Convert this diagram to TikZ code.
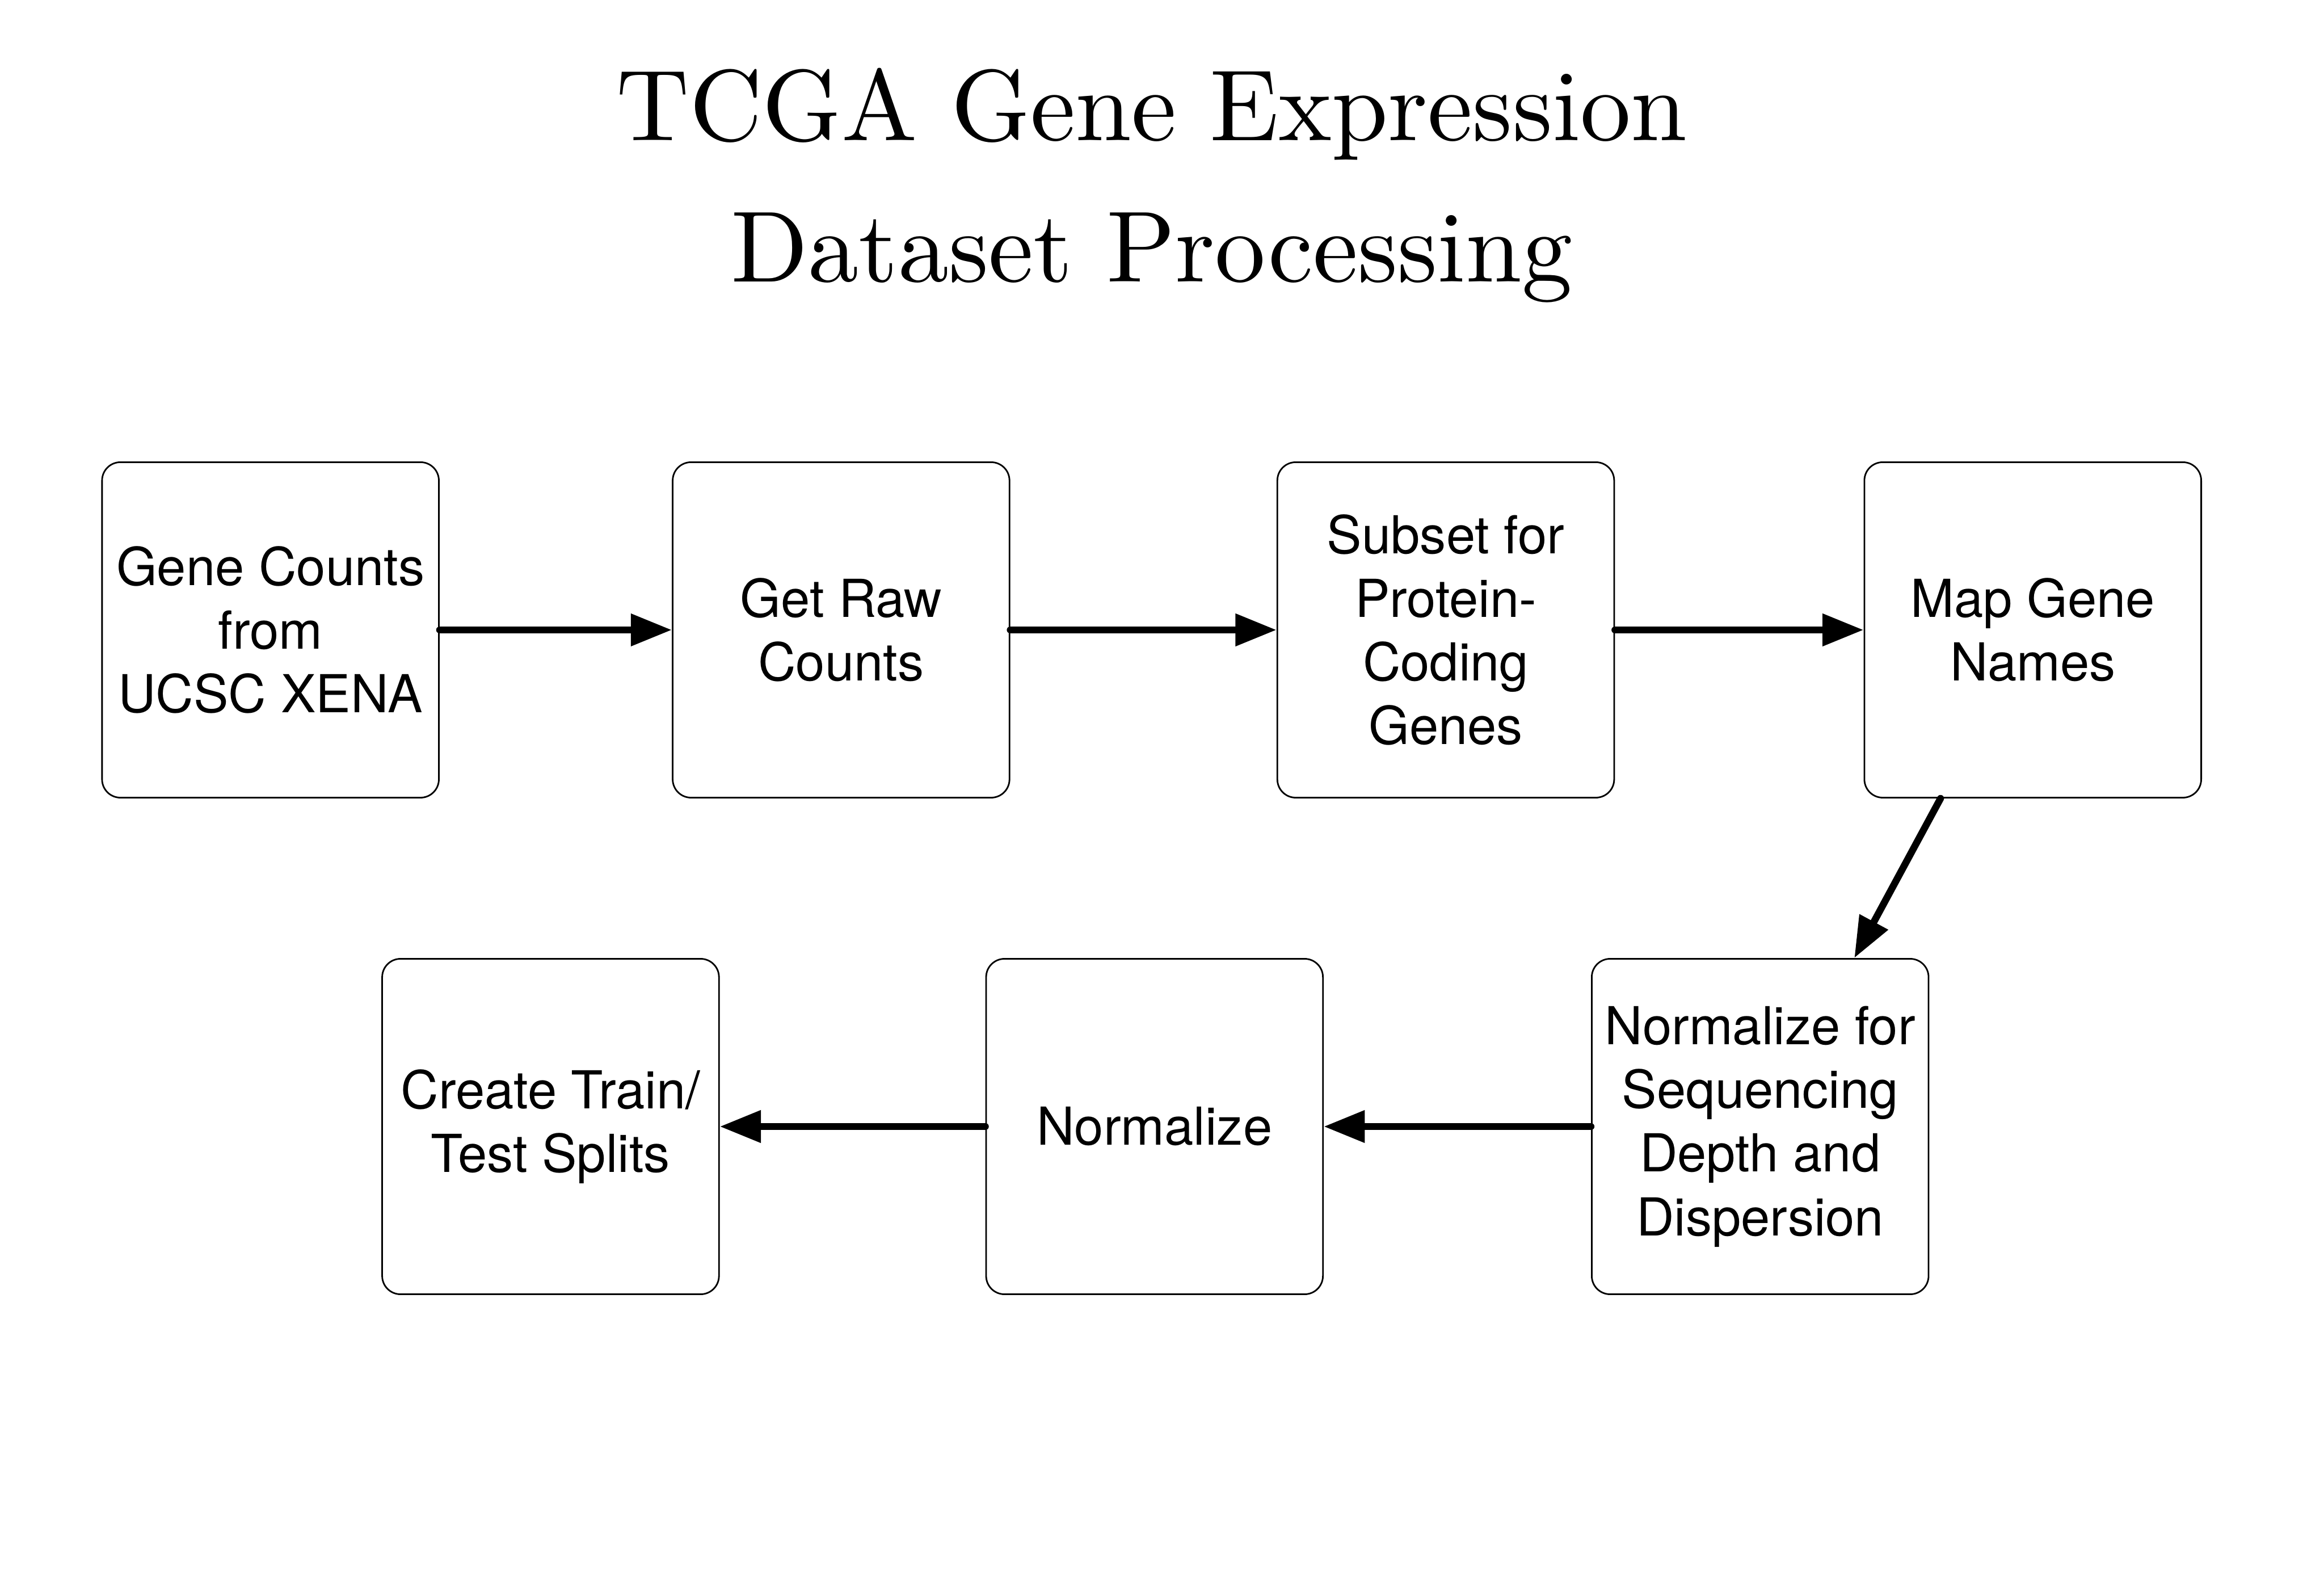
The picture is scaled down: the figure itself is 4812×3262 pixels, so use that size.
\documentclass[tikz,border=0pt]{standalone}
\usepackage{fontspec}
\newfontfamily\boxfont{TeX Gyre Heros}
\newfontfamily\titlefont{lmroman10-regular.otf}
\usetikzlibrary{arrows.meta,calc}
\begin{document}
\begin{tikzpicture}[x=0.01cm,y=0.01cm,
  stepbox/.style={draw, line width=0.033cm, rounded corners=0.38cm,
    minimum width=6.97cm, minimum height=6.94cm, inner sep=0pt,
    align=center, font=\boxfont\fontsize{30.8}{37.5}\selectfont},
  flow/.style={line width=0.145cm, line cap=round,
    -{Triangle[length=0.85cm,width=0.64cm]}},
  titletext/.style={font=\titlefont\fontsize{59.5}{83}\selectfont, anchor=base, inner sep=0pt}]
\useasboundingbox (0,0) rectangle (4812,3262);
\node[titletext] (t1) at (2385,2971) {TCGA Gene Expression};
\node[titletext] (t2) at (2385,2679) {Dataset Processing};
\node[stepbox] (b1) at (560,1958) {Gene Counts\\from\\UCSC XENA};
\node[stepbox] (b2) at (1741.5,1958) {Get Raw\\Counts};
\node[stepbox] (b3) at (2993.5,1958) {Subset for\\Protein-\\Coding\\Genes};
\node[stepbox] (b4) at (4209,1958) {Map Gene\\Names};
\node[stepbox] (b5) at (1140,930) {Create Train/\\Test Splits};
\node[stepbox] (b6) at (2390.5,930) {Normalize};
\node[stepbox] (b7) at (3644.5,930) {Normalize for\\Sequencing\\Depth and\\Dispersion};
\draw[flow] (b1.east) -- (b2.west);
\draw[flow] (b2.east) -- (b3.west);
\draw[flow] (b3.east) -- (b4.west);
\coordinate (d1) at ($(b4.south)+(-191,0)$);
\coordinate (d2) at ($(b7.north)+(195,0)$);
\draw[flow] (d1) -- (d2);
\draw[flow] (b7.west) -- (b6.east);
\draw[flow] (b6.west) -- (b5.east);
\end{tikzpicture}
\end{document}
